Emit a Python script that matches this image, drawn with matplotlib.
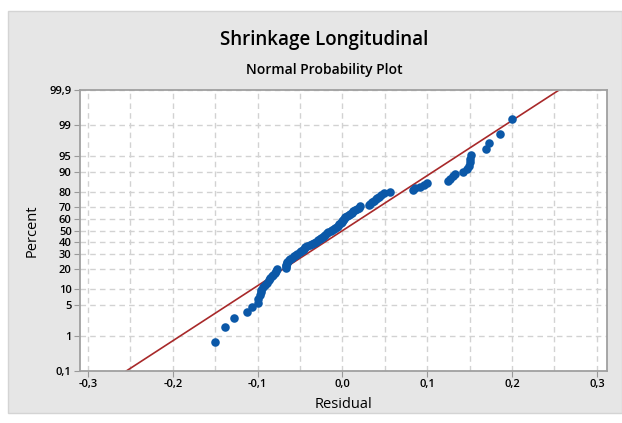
import math
import numpy as np
import matplotlib
matplotlib.use("Agg")
import matplotlib.pyplot as plt
from matplotlib.patches import Rectangle
from matplotlib.ticker import FixedLocator, MultipleLocator

# sorted residuals
residuals = [
    -0.150, -0.138, -0.128, -0.112, -0.107, -0.100, -0.099, -0.097, -0.096, -0.0955,
    -0.094, -0.091, -0.0885, -0.087, -0.085, -0.083, -0.0815, -0.080, -0.0785, -0.077,
    -0.067, -0.0665, -0.066, -0.0655, -0.065, -0.063, -0.062, -0.0595, -0.0575, -0.055,
    -0.053, -0.0505, -0.0485, -0.047, -0.0455, -0.044, -0.042, -0.0385, -0.0355, -0.033,
    -0.031, -0.0285, -0.027, -0.0255, -0.0235, -0.022, -0.0205, -0.0185, -0.0165, -0.014,
    -0.012, -0.0105, -0.0085, -0.007, -0.0055, -0.004, -0.002, -0.001, 0.000, 0.001,
    0.002, 0.0035, 0.0055, 0.0075, 0.009, 0.011, 0.013, 0.015, 0.017, 0.019,
    0.021, 0.031, 0.033, 0.035, 0.037, 0.039, 0.041, 0.043, 0.045, 0.049,
    0.056, 0.083, 0.086, 0.092, 0.096, 0.100, 0.124, 0.127, 0.130, 0.133,
    0.142, 0.147, 0.149, 0.150, 0.151, 0.152, 0.169, 0.173, 0.186, 0.200,
]
line_mean = 0.0
line_sigma = 0.0825

y_ticks = [0.1, 1, 5, 10, 20, 30, 40, 50, 60, 70, 80, 90, 95, 99, 99.9]
x_ticks = [-0.3, -0.2, -0.1, 0.0, 0.1, 0.2, 0.3]

BLUE = "#0B58A8"
RED = "#A8292A"
PANEL = "#E6E6E6"


def norm_ppf(p):
    lo, hi = -10.0, 10.0
    for _ in range(80):
        mid = (lo + hi) / 2
        if 0.5 * (1 + math.erf(mid / math.sqrt(2))) < p:
            lo = mid
        else:
            hi = mid
    return (lo + hi) / 2


def fmt(v):
    s = "%.1f" % v if v < 1 or v == 99.9 else "%d" % v
    return s.replace(".", ",")


plt.rcParams['font.family'] = ['Open Sans', 'DejaVu Sans']

fig = plt.figure(figsize=(6.22, 4.23), dpi=100)
fig.patch.set_facecolor("white")
fig.patches.append(Rectangle((8 / 622, 1 - 413 / 423), 614 / 622, 402 / 423,
                             transform=fig.transFigure, facecolor=PANEL,
                             edgecolor="#D4D4D4", linewidth=1, zorder=-5))

ax = fig.add_axes([80 / 622, 1 - 371 / 423, 527 / 622, 280.7 / 423])
ax.set_facecolor("white")

n = len(residuals)
z_pts = [norm_ppf((i + 1 - 0.3) / (n + 0.4)) for i in range(n)]
ax.scatter(residuals, z_pts, s=38, color=BLUE, zorder=3, linewidths=0)

xl = np.array([-0.31, 0.31])
ax.plot(xl, (xl - line_mean) / line_sigma, color=RED, linewidth=1.2, zorder=2)

ax.set_xlim(-0.3095, 0.312)
ax.set_ylim(norm_ppf(0.001), norm_ppf(0.999))

ax.yaxis.set_major_locator(FixedLocator([norm_ppf(v / 100) for v in y_ticks]))
ax.set_yticklabels([fmt(v) for v in y_ticks])
ax.xaxis.set_major_locator(FixedLocator(x_ticks))
ax.set_xticklabels([("%.1f" % v).replace(".", ",") for v in x_ticks])
ax.xaxis.set_minor_locator(MultipleLocator(0.05))

ax.grid(True, which="both", axis="x", color="#D2D2D2", linestyle=(0, (4, 3)), linewidth=1)
ax.grid(True, which="major", axis="y", color="#D2D2D2", linestyle=(0, (4, 3)), linewidth=1)
ax.set_axisbelow(True)
ax.tick_params(which="minor", length=0)
ax.tick_params(which="major", length=4, color="#999999", labelsize=8, pad=2)
for lab in ax.get_xticklabels() + ax.get_yticklabels():
    lab.set_fontweight("semibold")
for sp in ax.spines.values():
    sp.set_color("#A0A0A0")
    sp.set_linewidth(1.3)

ax.set_xlabel("Residual", fontsize=10.5, labelpad=5)
ax.set_ylabel("Percent", fontsize=10.5, labelpad=7)

fig.text(324 / 622, 1 - 40 / 423, "Shrinkage Longitudinal", ha="center", va="center",
         fontsize=13.5, fontweight="semibold")
fig.text(324 / 622, 1 - 70 / 423, "Normal Probability Plot", ha="center", va="center",
         fontsize=10, fontweight="semibold")

fig.savefig("out.png", dpi=100)
